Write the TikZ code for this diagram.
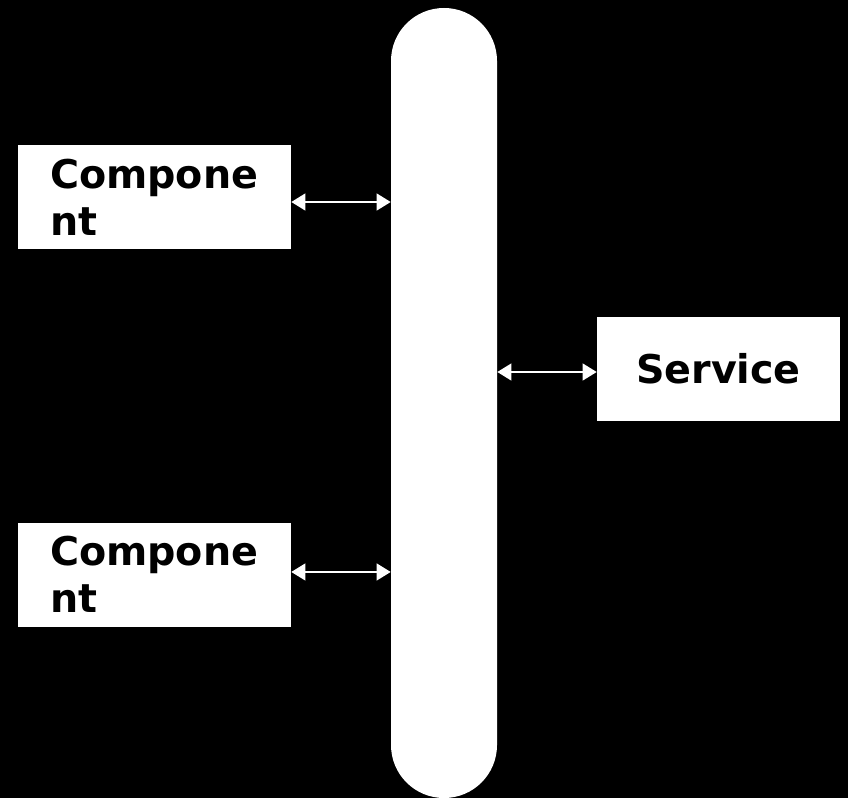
\documentclass[tikz,border=0pt]{standalone}
\usepackage{fontspec}
\setmainfont{DejaVu Sans}
\usetikzlibrary{arrows.meta}

\begin{document}
\begin{tikzpicture}[>={Triangle[length=10.5pt,width=12.5pt]},x=0.75pt,y=-0.75pt,
  box/.style={rectangle,fill=white,text=black,font=\fontsize{29.7}{35.2}\selectfont\bfseries,minimum height=78pt,inner sep=0pt},
  link/.style={<->,draw=white,line width=1.5pt}]

% background
\fill[black] (0,0) rectangle (848,798);

\node(bus) at (444,403)[fill=white,rounded corners=39.7pt,minimum width=79.5pt,minimum height=592.5pt,inner sep=0pt]{};
\node(comp1) at (154.5,197)[box,minimum width=204.75pt,align=left,text width=156.75pt]{Compone\\nt};
\node(comp2) at (154.5,574.5)[box,minimum width=204.75pt,align=left,text width=156.75pt]{Compone\\nt};
\node(serv) at (718.5,369)[box,minimum width=182.25pt]{Service};

\draw[link] ([yshift=-3.75pt]comp1.east) -- ([yshift=-3.75pt]comp1.east -| bus.west);
\draw[link] ([yshift=1.9pt]comp2.east) -- ([yshift=1.9pt]comp2.east -| bus.west);
\draw[link] ([yshift=-2.25pt]bus.east |- serv.west) -- ([yshift=-2.25pt]serv.west);

\end{tikzpicture}
\end{document}
